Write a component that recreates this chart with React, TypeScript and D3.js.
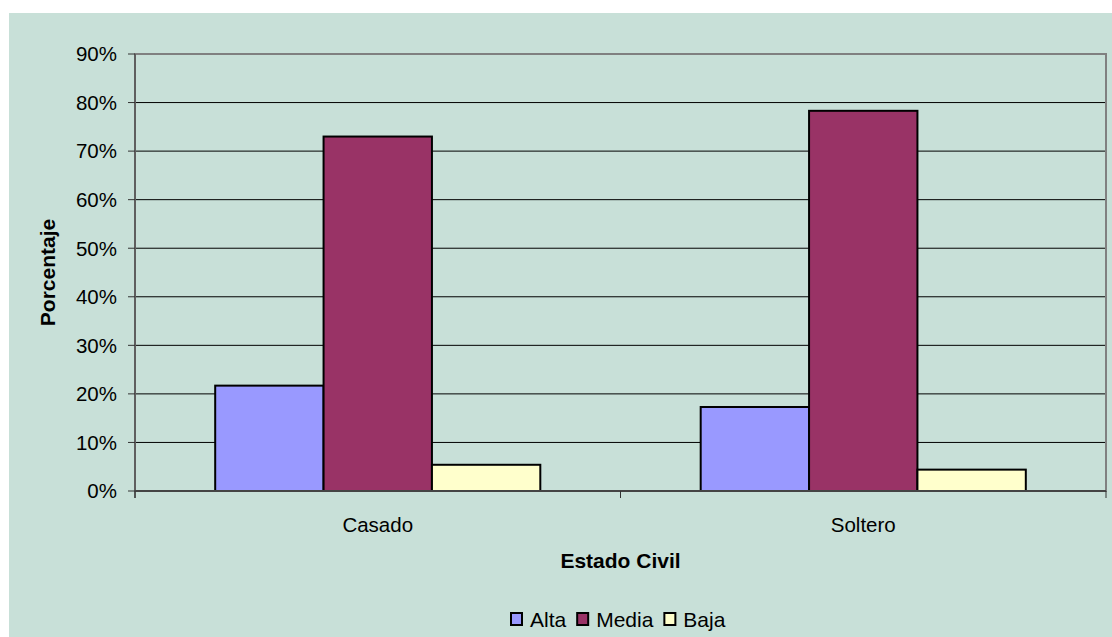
import React from "react";
import * as d3 from "d3";

// Estado civil vs nivel (porcentaje)
const categories = ["Casado", "Soltero"];
const seriesNames = ["Alta", "Media", "Baja"];
const alta = [21.7, 17.3];
const media = [73.0, 78.3];
const baja = [5.4, 4.4];
const seriesValues = [alta, media, baja];
const seriesColors = ["#9999FF", "#993366", "#FFFFCC"];
const yTicks = [0, 10, 20, 30, 40, 50, 60, 70, 80, 90];

const W = 1112;
const H = 637;
const FONT = "'Liberation Sans', Arial, sans-serif";

export default function App() {
  const plot = { left: 135, right: 1106, top: 54, bottom: 491 };

  const y = d3.scaleLinear().domain([0, 90]).range([plot.bottom, plot.top]);
  const x0 = d3.scaleBand<string>().domain(categories).range([plot.left, plot.right]).padding(0);
  const band = x0.bandwidth();
  const barW = band / 4.48;
  const side = (band - 3 * barW) / 2;
  const x1 = d3.scaleBand<string>().domain(seriesNames).range([side, band - side]).padding(0);

  // legend layout
  const legendFont = 21;
  const textW = (s: string) => {
    const widths: Record<string, number> = { Alta: 1.723, Media: 2.723, Baja: 2.002 };
    return (widths[s] ?? 2) * legendFont;
  };
  let lx = 511;
  const legendItems = seriesNames.map((name, i) => {
    const item = { name, color: seriesColors[i], x: lx };
    lx += 19 + textW(name) + 11;
    return item;
  });

  return (
    <svg
      width={W}
      height={H}
      style={{ position: "absolute", left: 0, top: 0, display: "block" }}
      fontFamily={FONT}
    >
      <rect x={0} y={0} width={W} height={H} fill="#ffffff" />
      <rect x={9} y={13} width={W - 9} height={H - 13} fill="rgb(200,224,216)" />

      {/* gridlines */}
      {yTicks.slice(1, -1).map((t) => (
        <line key={t} x1={plot.left} x2={plot.right} y1={y(t)} y2={y(t)} stroke="#000" strokeWidth={1} />
      ))}

      {/* plot frame */}
      <rect
        x={plot.left}
        y={plot.top}
        width={plot.right - plot.left}
        height={plot.bottom - plot.top}
        fill="none"
        stroke="#808080"
        strokeWidth={2}
      />

      {/* bars */}
      {categories.map((c, ci) =>
        seriesNames.map((s, si) => {
          const v = seriesValues[si][ci];
          const bx = (x0(c) ?? 0) + (x1(s) ?? 0);
          return (
            <rect
              key={c + s}
              x={bx}
              y={y(v)}
              width={x1.bandwidth()}
              height={y(0) - y(v)}
              fill={seriesColors[si]}
              stroke="#000"
              strokeWidth={2}
            />
          );
        })
      )}

      {/* axes */}
      <line x1={plot.left} x2={plot.left} y1={plot.top} y2={plot.bottom + 7} stroke="#555" strokeWidth={1.5} />
      <line x1={plot.left} x2={plot.right} y1={plot.bottom} y2={plot.bottom} stroke="#444" strokeWidth={2} />
      {yTicks.map((t) => (
        <g key={t}>
          <line x1={plot.left - 7} x2={plot.left} y1={y(t)} y2={y(t)} stroke="#333" strokeWidth={1} />
          <text x={117} y={y(t)} dy="0.36em" textAnchor="end" fontSize={20.5} fill="#000">
            {t}%
          </text>
        </g>
      ))}
      {[plot.left, x0(categories[1]) ?? 0, plot.right].map((tx, i) => (
        <line key={i} x1={tx} x2={tx} y1={plot.bottom} y2={plot.bottom + 7} stroke="#333" strokeWidth={1} />
      ))}
      {categories.map((c) => (
        <text
          key={c}
          x={(x0(c) ?? 0) + band / 2}
          y={532}
          textAnchor="middle"
          fontSize={20.5}
          fill="#000"
        >
          {c}
        </text>
      ))}

      {/* axis titles */}
      <text x={(plot.left + plot.right) / 2} y={568} textAnchor="middle" fontSize={21} fontWeight="bold" fill="#000">
        Estado Civil
      </text>
      <text
        transform={`translate(55,${(plot.top + plot.bottom) / 2}) rotate(-90)`}
        textAnchor="middle"
        fontSize={21}
        fontWeight="bold"
        fill="#000"
      >
        Porcentaje
      </text>

      {/* legend */}
      {legendItems.map((it) => (
        <g key={it.name}>
          <rect x={it.x} y={613} width={11} height={12} fill={it.color} stroke="#000" strokeWidth={2} />
          <text x={it.x + 19} y={627} fontSize={legendFont} fill="#000">
            {it.name}
          </text>
        </g>
      ))}
    </svg>
  );
}
